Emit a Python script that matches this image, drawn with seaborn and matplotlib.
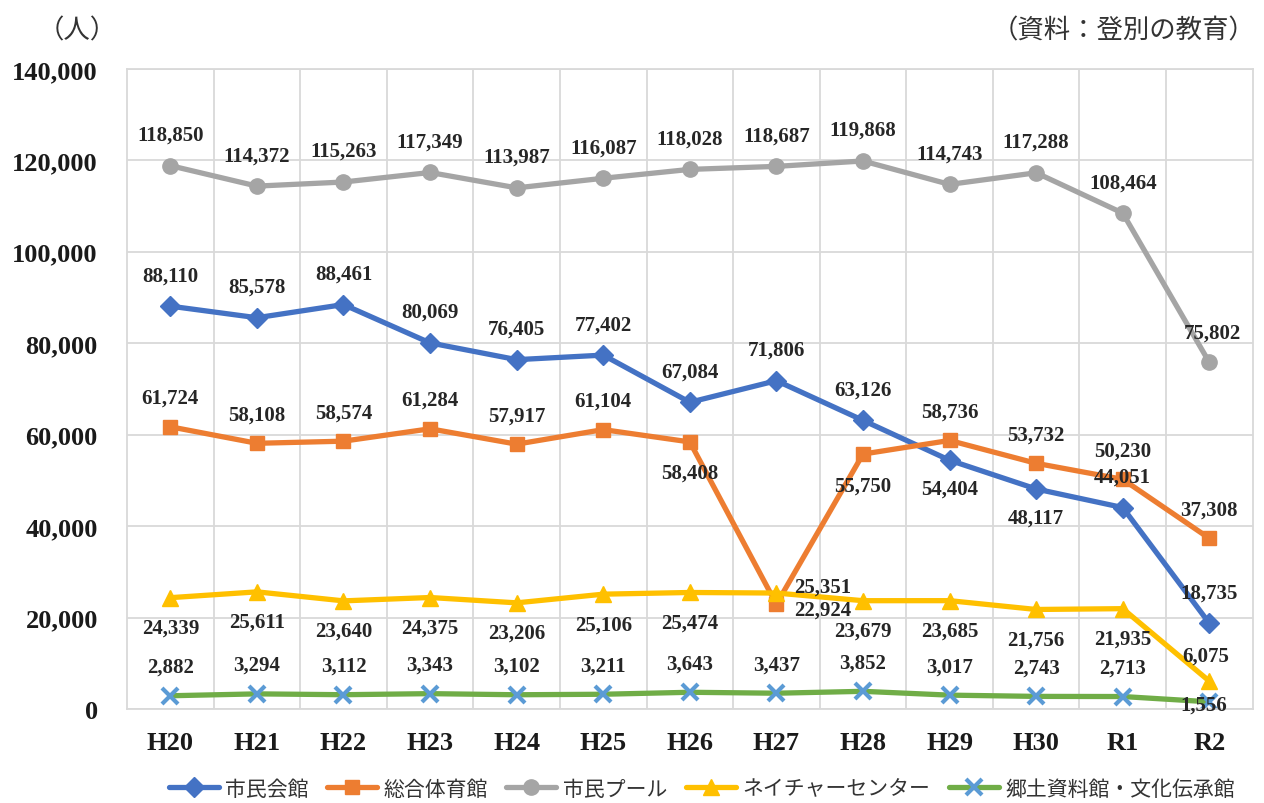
import pandas as pd
import numpy as np
import matplotlib
matplotlib.use("Agg")
import matplotlib.pyplot as plt
from matplotlib.lines import Line2D
from matplotlib.ticker import FuncFormatter, MultipleLocator
import seaborn as sns

# data
years = ["H20", "H21", "H22", "H23", "H24", "H25", "H26", "H27", "H28", "H29", "H30", "R1", "R2"]
series_names = ["市民会館", "総合体育館", "市民プール", "ネイチャーセンター", "郷土資料館・文化伝承館"]
shimin_kaikan = [88110, 85578, 88461, 80069, 76405, 77402, 67084, 71806, 63126, 54404, 48117, 44051, 18735]
sogo_taiikukan = [61724, 58108, 58574, 61284, 57917, 61104, 58408, 22924, 55750, 58736, 53732, 50230, 37308]
shimin_pool = [118850, 114372, 115263, 117349, 113987, 116087, 118028, 118687, 119868, 114743, 117288, 108464, 75802]
nature_center = [24339, 25611, 23640, 24375, 23206, 25106, 25474, 25351, 23679, 23685, 21756, 21935, 6075]
kyodo_shiryokan = [2882, 3294, 3112, 3343, 3102, 3211, 3643, 3437, 3852, 3017, 2743, 2713, 1556]

all_values = [shimin_kaikan, sogo_taiikukan, shimin_pool, nature_center, kyodo_shiryokan]

# styling
colors = ["#4472C4", "#ED7D31", "#A5A5A5", "#FFC000", "#70AD47"]
markers = ["D", "s", "o", "^", "x"]
msizes = [10, 10, 11, 11, 11]
edge_colors = ["#4472C4", "#ED7D31", "#A5A5A5", "#FFC000", "#5B9BD5"]

# label offsets in pixels (dx, dy) - default per series, then exceptions
default_off = [(0, 31), (0, 29), (0, 31), (0, -30), (0, 29)]
special_off = {
    (0, 9): (0, -28), (0, 10): (0, -29),
    (1, 6): (0, -31), (1, 7): (46, -5), (1, 8): (0, -32),
    (2, 12): (3, 30),
    (3, 7): (46, 6), (3, 12): (-4, 26),
    (4, 12): (-6, -3),
}

rows = []
for name, vals in zip(series_names, all_values):
    for i, v in enumerate(vals):
        rows.append({"idx": i, "year": years[i], "series": name, "value": v})
df = pd.DataFrame(rows)

sns.set_theme(style="white")
plt.rcParams["font.family"] = ["Noto Sans CJK JP", "DejaVu Sans"]

fig = plt.figure(figsize=(12.64, 8.04), dpi=100)
ax = fig.add_axes([0.1005, 0.117, 0.8905, 0.796])

for name, c, m, ms, ec in zip(series_names, colors, markers, msizes, edge_colors):
    sub = df[df["series"] == name]
    sns.lineplot(data=sub, x="idx", y="value", color=c, marker=m, markersize=ms,
                 markerfacecolor=ec, markeredgecolor=ec,
                 markeredgewidth=(3 if ec != c else 1),
                 linewidth=3.8, ax=ax, sort=False)

# data labels
num_font = dict(family="Liberation Serif", weight="bold", size=15, color="#262626")
for s, vals in enumerate(all_values):
    for i, v in enumerate(vals):
        dx, dy = special_off.get((s, i), default_off[s])
        ax.annotate(f"{v:,}", (i, v), xytext=(dx, dy), textcoords="offset pixels",
                    ha="center", va="center", zorder=5, **num_font)

ax.set_xlim(-0.5, len(years) - 0.5)
ax.set_ylim(0, 140000)
ax.yaxis.set_major_locator(MultipleLocator(20000))
ax.yaxis.set_major_formatter(FuncFormatter(lambda v, p: f"{int(v):,}"))
ax.set_xticks(range(len(years)))
ax.set_xticklabels(years)
ax.set_xlabel("")
ax.set_ylabel("")

# grid: horizontal at ticks, vertical between categories
ax.grid(axis="y", color="#D9D9D9", linewidth=1.3)
for b in np.arange(0.5, len(years) - 0.5, 1):
    ax.axvline(b, color="#D9D9D9", linewidth=1.3, zorder=0)
ax.set_axisbelow(True)
for sp in ax.spines.values():
    sp.set_color("#D9D9D9")
    sp.set_linewidth(1.3)

for lab in ax.get_xticklabels() + ax.get_yticklabels():
    lab.set_fontfamily("Liberation Serif")
    lab.set_fontweight("bold")
    lab.set_fontsize(19)
    lab.set_color("#1a1a1a")
ax.tick_params(axis="y", length=0, pad=21)
ax.tick_params(axis="x", length=0, pad=16)

fig.text(0.03, 0.962, "（人）", fontsize=19, color="#333333", va="center", ha="left")
fig.text(0.993, 0.962, "（資料：登別の教育）", fontsize=19, color="#333333", va="center", ha="right")

handles = [Line2D([], [], color=c, marker=m, markersize=ms, markerfacecolor=ec,
                  markeredgecolor=ec, markeredgewidth=(3 if ec != c else 1), linewidth=3.8)
           for c, m, ms, ec in zip(colors, markers, msizes, edge_colors)]
fig.legend(handles, series_names, loc="center", bbox_to_anchor=(0.555, 0.018), ncol=5,
           frameon=False, fontsize=15, handlelength=2.4, handletextpad=0.3,
           columnspacing=0.9, labelcolor="#333333")

fig.savefig("out.png", dpi=100)
